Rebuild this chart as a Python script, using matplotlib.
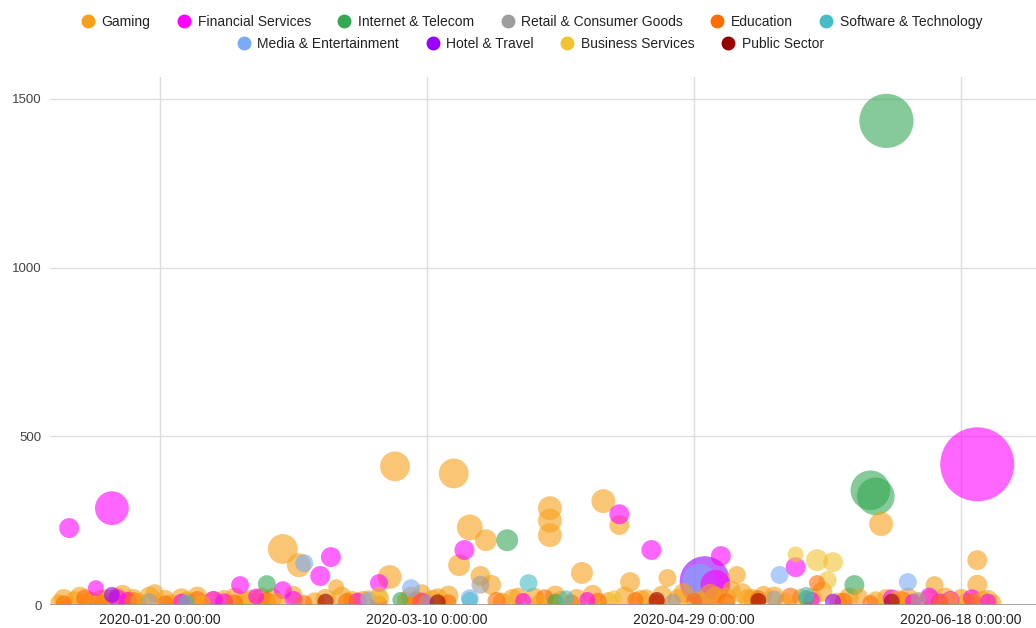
import numpy as np
import pandas as pd
import matplotlib
matplotlib.use("Agg")
import matplotlib.pyplot as plt
from matplotlib.lines import Line2D

plt.rcParams["font.family"] = ["Liberation Sans", "DejaVu Sans"]

# === Data: (date, value, bubble size) per industry ===
categories = ["Gaming", "Financial Services", "Internet & Telecom", "Retail & Consumer Goods",
              "Education", "Software & Technology", "Media & Entertainment", "Hotel & Travel",
              "Business Services", "Public Sector"]
colors = ["#f7a11a", "#ff00ff", "#34a853", "#9e9e9e", "#ff6d01",
          "#46bdc6", "#7baaf7", "#9900ff", "#f1c232", "#990000"]

gaming = [
    ("2020-02-12", 166, 30), ("2020-02-15", 118, 21), ("2020-03-04", 411, 30), ("2020-03-15", 390, 30),
    ("2020-03-18", 230, 24), ("2020-03-21", 192, 18), ("2020-03-16", 118, 18), ("2020-03-20", 86, 15),
    ("2020-03-22", 60, 15), ("2020-04-02", 287, 21), ("2020-04-02", 250, 21), ("2020-04-02", 207, 21),
    ("2020-04-12", 308, 21), ("2020-04-15", 237, 15), ("2020-04-08", 95, 18), ("2020-04-17", 68, 15),
    ("2020-04-24", 80, 12), ("2020-05-07", 89, 12), ("2020-06-03", 240, 21), ("2020-06-21", 133, 15),
    ("2020-06-21", 60, 15), ("2020-03-03", 83, 21), ("2020-02-22", 53, 9), ("2020-06-13", 59, 12),
    ("2020-01-01", 8, 9), ("2020-01-04", 15, 12), ("2020-01-07", 10, 15), ("2020-01-10", 20, 12),
    ("2020-01-13", 30, 15), ("2020-01-16", 12, 9), ("2020-01-19", 35, 12), ("2020-01-22", 8, 9),
    ("2020-01-25", 14, 12), ("2020-01-28", 6, 9), ("2020-02-01", 18, 12), ("2020-02-05", 10, 15),
    ("2020-02-08", 25, 12), ("2020-02-11", 12, 9), ("2020-02-14", 30, 12), ("2020-02-18", 8, 15),
    ("2020-02-25", 15, 12), ("2020-02-28", 20, 9), ("2020-03-06", 12, 12), ("2020-03-09", 35, 12),
    ("2020-03-12", 20, 15), ("2020-03-24", 10, 12), ("2020-03-27", 25, 12), ("2020-03-31", 8, 9),
    ("2020-04-04", 15, 12), ("2020-04-10", 30, 15), ("2020-04-13", 12, 12), ("2020-04-20", 20, 12),
    ("2020-04-27", 35, 15), ("2020-04-30", 15, 12), ("2020-05-03", 25, 15), ("2020-05-06", 45, 12),
    ("2020-05-09", 18, 15), ("2020-05-12", 30, 12), ("2020-05-16", 12, 9), ("2020-05-19", 22, 12),
    ("2020-05-23", 40, 15), ("2020-05-26", 10, 12), ("2020-05-30", 25, 9), ("2020-06-02", 14, 12),
    ("2020-06-06", 20, 9), ("2020-06-10", 8, 12), ("2020-06-16", 15, 9), ("2020-06-19", 10, 12),
    ("2020-06-22", 18, 9), ("2020-06-24", 8, 9),
    ("2020-01-02", 18, 15), ("2020-01-05", 25, 15), ("2020-01-09", 12, 18), ("2020-01-12", 22, 15),
    ("2020-01-15", 18, 15), ("2020-01-18", 25, 15), ("2020-01-21", 15, 15), ("2020-01-24", 20, 15),
    ("2020-01-27", 25, 15), ("2020-01-30", 12, 15), ("2020-02-03", 22, 15), ("2020-02-06", 15, 15),
    ("2020-02-10", 20, 15), ("2020-02-20", 18, 15), ("2020-02-23", 25, 15), ("2020-02-27", 12, 15),
    ("2020-03-01", 20, 15), ("2020-03-07", 25, 15), ("2020-03-11", 15, 15), ("2020-03-14", 28, 15),
    ("2020-03-26", 18, 15), ("2020-03-30", 22, 15), ("2020-04-03", 28, 15), ("2020-04-07", 18, 15),
    ("2020-04-16", 25, 15), ("2020-04-19", 15, 15), ("2020-04-23", 28, 15), ("2020-04-26", 18, 15),
    ("2020-05-02", 30, 18), ("2020-05-05", 22, 15), ("2020-05-08", 35, 15), ("2020-05-10", 18, 15),
    ("2020-05-14", 25, 15), ("2020-05-21", 20, 15), ("2020-05-28", 22, 15), ("2020-06-04", 18, 15),
    ("2020-06-08", 22, 15), ("2020-06-12", 15, 15), ("2020-06-15", 22, 15), ("2020-06-18", 18, 15),
    ("2020-06-23", 15, 15),
]
financial = [
    ("2020-01-03", 228, 15), ("2020-01-11", 287, 36), ("2020-01-08", 50, 9), ("2020-01-12", 20, 12),
    ("2020-01-24", 10, 9), ("2020-01-30", 15, 12), ("2020-02-04", 59, 12), ("2020-02-07", 25, 9),
    ("2020-02-12", 44, 12), ("2020-02-19", 86, 15), ("2020-02-21", 142, 15), ("2020-02-26", 10, 12),
    ("2020-03-01", 65, 12), ("2020-03-17", 163, 15), ("2020-03-28", 12, 9), ("2020-04-15", 269, 15),
    ("2020-04-21", 163, 15), ("2020-04-09", 15, 9), ("2020-05-04", 145, 15), ("2020-05-03", 60, 30),
    ("2020-05-18", 112, 15), ("2020-05-21", 15, 9), ("2020-06-05", 20, 12), ("2020-06-09", 10, 9),
    ("2020-06-12", 25, 12), ("2020-06-16", 15, 12), ("2020-06-21", 417, 97), ("2020-06-23", 10, 9),
    ("2020-01-14", 12, 12), ("2020-02-01", 8, 12), ("2020-02-14", 15, 12), ("2020-03-09", 10, 12),
    ("2020-06-14", 8, 12), ("2020-06-20", 20, 12),
]
telecom = [
    ("2020-02-09", 62, 12), ("2020-03-25", 192, 18), ("2020-05-29", 59, 15), ("2020-06-01", 340, 45),
    ("2020-06-02", 322, 42), ("2020-06-04", 1435, 67), ("2020-04-03", 10, 9), ("2020-03-05", 15, 9),
    ("2020-05-20", 20, 9),
]
retail = [
    ("2020-03-20", 60, 12), ("2020-04-25", 10, 9), ("2020-05-14", 20, 9), ("2020-01-18", 12, 9),
    ("2020-03-10", 8, 9), ("2020-06-10", 15, 9),
]
education = [
    ("2020-01-02", 5, 9), ("2020-01-06", 20, 12), ("2020-01-09", 8, 9), ("2020-01-15", 12, 12),
    ("2020-01-21", 5, 9), ("2020-01-27", 15, 12), ("2020-02-03", 8, 9), ("2020-02-09", 12, 12),
    ("2020-02-16", 6, 9), ("2020-02-24", 10, 12), ("2020-03-01", 5, 9), ("2020-03-08", 14, 12),
    ("2020-03-14", 8, 9), ("2020-03-23", 12, 12), ("2020-04-01", 20, 12), ("2020-04-06", 8, 9),
    ("2020-04-11", 10, 12), ("2020-04-18", 15, 9), ("2020-04-22", 6, 12), ("2020-04-29", 12, 9),
    ("2020-05-05", 8, 12), ("2020-05-11", 20, 9), ("2020-05-17", 25, 12), ("2020-05-22", 65, 9),
    ("2020-05-27", 10, 12), ("2020-06-01", 6, 9), ("2020-06-07", 14, 12), ("2020-06-14", 8, 9),
    ("2020-06-20", 12, 9),
]
software = [
    ("2020-03-29", 65, 12), ("2020-04-05", 20, 9), ("2020-03-18", 15, 9), ("2020-05-20", 30, 9),
    ("2020-01-25", 8, 9),
]
media = [
    ("2020-02-16", 124, 12), ("2020-03-07", 50, 12), ("2020-03-18", 20, 12), ("2020-04-30", 72, 36),
    ("2020-05-15", 89, 12), ("2020-06-08", 68, 12), ("2020-02-28", 15, 9),
]
hotel = [
    ("2020-05-01", 70, 61), ("2020-01-11", 30, 9), ("2020-05-25", 10, 9),
]
business = [
    ("2020-05-22", 133, 18), ("2020-05-25", 127, 15), ("2020-05-24", 74, 12), ("2020-05-18", 150, 9),
    ("2020-03-01", 30, 9), ("2020-04-14", 20, 9),
]
public = [
    ("2020-03-12", 8, 9), ("2020-04-22", 15, 9), ("2020-05-11", 12, 9), ("2020-06-05", 10, 9),
    ("2020-02-20", 10, 9),
]
series = [gaming, financial, telecom, retail, education, software, media, hotel, business, public]

x_ticks = ["2020-01-20", "2020-03-10", "2020-04-29", "2020-06-18"]
y_ticks = [0, 500, 1000, 1500]

# === Build one table, biggest bubbles drawn first ===
rows = []
for cat, col, pts in zip(categories, colors, series):
    for d, v, s in pts:
        rows.append((pd.Timestamp(d), v, s, col))
df = pd.DataFrame(rows, columns=["date", "value", "size", "color"])
df = df.sort_values("size", ascending=False, kind="stable")

px2pt = 72 / 100
radius_px = 5 + 0.33 * df["size"]
area = (2 * radius_px * px2pt) ** 2

fig = plt.figure(figsize=(10.36, 6.28), dpi=100)
ax = fig.add_axes([50 / 1036, 23 / 628, 986 / 1036, 528 / 628])

ax.scatter(df["date"], df["value"], s=area, c=df["color"], alpha=0.6,
           edgecolors="none", zorder=3)

ax.set_xlim(pd.Timestamp("2019-12-30 10:00"), pd.Timestamp("2020-07-02"))
ax.set_ylim(0, 1565)
ax.set_xticks([pd.Timestamp(t) for t in x_ticks])
ax.set_xticklabels([t + " 0:00:00" for t in x_ticks], fontsize=10, color="#222222")
ax.set_yticks(y_ticks)
ax.set_yticklabels([str(t) for t in y_ticks], fontsize=9.5, color="#444444")
ax.tick_params(length=0, pad=6)
ax.grid(True, color="#dddddd", linewidth=1, zorder=0)
ax.set_axisbelow(True)
for sp in ax.spines.values():
    sp.set_visible(False)
ax.axhline(0, color="#999999", linewidth=1.2, zorder=4)

# === Legend, two centred rows ===
def handles(idx):
    return [Line2D([], [], marker="o", linestyle="", markersize=9, color=colors[i],
                   label=categories[i]) for i in idx]

kw = dict(loc="center", frameon=False, fontsize=10, handletextpad=0.5,
          columnspacing=1.9, borderaxespad=0, handlelength=1.0)
leg1 = fig.legend(handles=handles(range(6)), ncol=6, bbox_to_anchor=(0.513, 0.965), **kw)
leg2 = fig.legend(handles=handles(range(6, 10)), ncol=4, bbox_to_anchor=(0.512, 0.930), **kw)
for leg in (leg1, leg2):
    for t in leg.get_texts():
        t.set_color("#222222")

fig.savefig("out.png", dpi=100)
